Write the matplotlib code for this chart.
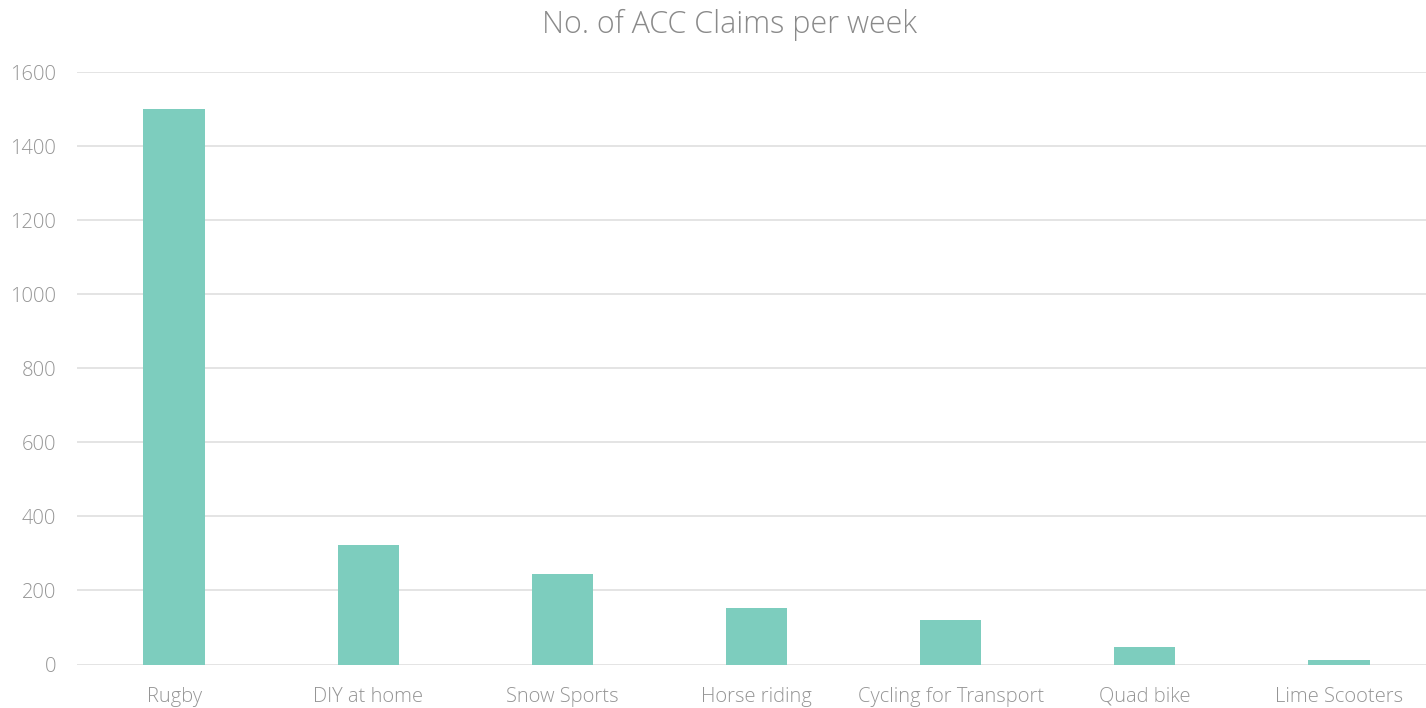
import matplotlib
matplotlib.use('Agg')
import matplotlib.pyplot as plt

categories = ['Rugby', 'DIY at home', 'Snow Sports', 'Horse riding',
              'Cycling for Transport', 'Quad bike', 'Lime Scooters']
claims = [1500, 323, 245, 152, 120, 47, 13]
yticks = [0, 200, 400, 600, 800, 1000, 1200, 1400, 1600]

plt.rcParams['font.family'] = ['Open Sans', 'DejaVu Sans']

fig = plt.figure(figsize=(14.26, 7.08), dpi=100)
ax = fig.add_axes([77/1426, 1 - 664.5/708, (1436 - 77)/1426, (664.5 - 72)/708])

x = range(len(categories))
ax.bar(x, claims, width=0.315, color='#7dcdbe', zorder=3)

ax.set_xlim(-0.5, len(categories) - 0.5)
ax.set_ylim(0, 1600)
ax.set_yticks(yticks)
ax.set_xticks(list(x))
ax.set_xticklabels(categories)
ax.grid(axis='y', color='#e2e2e2', linewidth=1.3, zorder=0)
for s in ax.spines.values():
    s.set_visible(False)
ax.tick_params(axis='both', length=0, labelsize=14.5, labelcolor='#959595')
ax.tick_params(axis='x', pad=16)
ax.tick_params(axis='y', pad=15)
for lbl in ax.get_xticklabels() + ax.get_yticklabels():
    lbl.set_fontweight('light')

fig.text(729/1426, 1 - 25/708, 'No. of ACC Claims per week', ha='center', va='center',
         fontsize=22, color='#8a8a8a', fontweight='light')

fig.savefig('out.png', dpi=100)
